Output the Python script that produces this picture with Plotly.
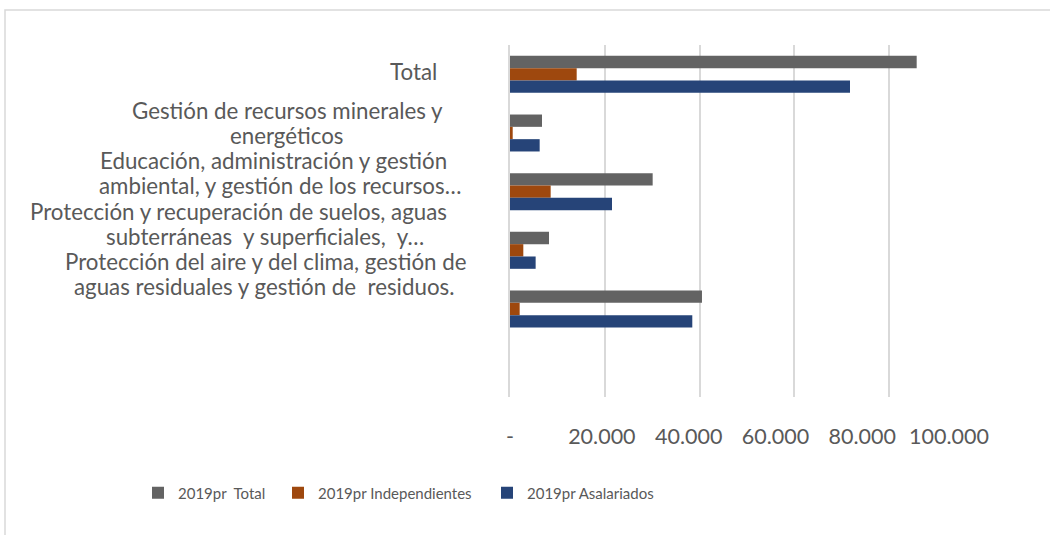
import plotly.graph_objects as go

# ---- data ----
categories = [
    "Total",
    "Gestión de recursos minerales y<br>energéticos",
    "Educación, administración y gestión<br>ambiental, y gestión de los recursos…",
    "Protección y recuperación de suelos, aguas<br>subterráneas  y superficiales,  y…",
    "Protección del aire y del clima, gestión de<br>aguas residuales y gestión de  residuos.",
    " ",
]
series_names = ["2019pr  Total", "2019pr Independientes", "2019pr Asalariados"]
total_vals = [85800, 6750, 30100, 8230, 40500, None]
indep_vals = [14070, 570, 8580, 2810, 2040, None]
asal_vals = [71730, 6260, 21520, 5410, 38460, None]
tick_values = [0, 20000, 40000, 60000, 80000, 100000]
tick_text = ["-", "20.000", "40.000", "60.000", "80.000", "100.000"]

colors = ["#636363", "#9e480e", "#264478"]

W, H = 1050, 535
L, R, T, B = 510, 66, 45, 138
pw, ph = W - L - R, H - T - B

def px2x(px):
    return (px - L) / pw

def py2y(py):
    return (H - B - py) / ph

legend_ids = ["legend", "legend2", "legend3"]
legend_px = [138, 278, 487]

fig = go.Figure()
for name, vals, col, lid in zip(series_names, [total_vals, indep_vals, asal_vals], colors, legend_ids):
    fig.add_trace(go.Bar(
        y=categories, x=vals, orientation="h", name=name.replace("  ", "\u00a0 "),
        marker=dict(color=col, line=dict(width=0)), legend=lid, showlegend=True,
    ))

# category label lines placed like the original (left of the plot)
line_x = [[413], [287, 286], [273, 280], [238, 265], [265, 264], []]
line_y = [[72], [110, 135], [160, 185], [211, 236], [261, 286], []]
annotations = []
for cat, xs, ys in zip(categories, line_x, line_y):
    for txt, lx, ly in zip(cat.split("<br>"), xs, ys):
        annotations.append(dict(
            x=px2x(lx), y=py2y(ly), xref="paper", yref="paper",
            text=txt.replace("  ", "\u00a0 "), showarrow=False,
            xanchor="center", yanchor="middle",
            font=dict(family="Lato", size=22.3, color="#595959"),
        ))

# tick labels sit slightly compressed relative to gridlines in the original
label_pos = [tick_values[0]] + [v * 0.9156 + 1070 for v in tick_values[1:]]

legend_common = dict(
    orientation="h", y=py2y(493), xanchor="left", yanchor="middle",
    font=dict(family="Lato", size=15, color="#595959"), itemwidth=30,
    bgcolor="rgba(0,0,0,0)",
)

fig.update_layout(
    width=W, height=H,
    margin=dict(l=L, r=R, t=T, b=B),
    paper_bgcolor="white", plot_bgcolor="white",
    showlegend=True,
    barmode="group", bargap=0.37, bargroupgap=0,
    font=dict(family="Lato", color="#595959"),
    xaxis=dict(
        range=[0, 100000], tickmode="array", tickvals=label_pos, ticktext=tick_text,
        showgrid=False, zeroline=False, showline=False, ticks="",
        ticklabelstandoff=24,
        tickfont=dict(family="Lato", size=21.5, color="#595959"),
        minor=dict(tickmode="array", tickvals=tick_values, showgrid=True,
                   gridcolor="#d9d9d9", gridwidth=1.5, ticks=""),
        fixedrange=True,
    ),
    yaxis=dict(
        categoryorder="array", categoryarray=categories,
        range=[5.5, -0.5], showticklabels=False, showgrid=False,
        zeroline=False, showline=True, linecolor="#d9d9d9", linewidth=1.5,
        ticks="", fixedrange=True,
    ),
    legend=dict(x=px2x(legend_px[0]), **legend_common),
    legend2=dict(x=px2x(legend_px[1]), **legend_common),
    legend3=dict(x=px2x(legend_px[2]), **legend_common),
    annotations=annotations,
    shapes=[dict(
        type="rect", xref="paper", yref="paper",
        x0=px2x(5), x1=px2x(1060), y0=py2y(10), y1=py2y(545),
        line=dict(color="#d9d9d9", width=1.5), fillcolor="rgba(0,0,0,0)",
    )],
)

fig.write_html(
    "out.html",
    config={"displayModeBar": False},
    post_script="document.body.style.margin='0';document.body.style.overflow='hidden';",
)
